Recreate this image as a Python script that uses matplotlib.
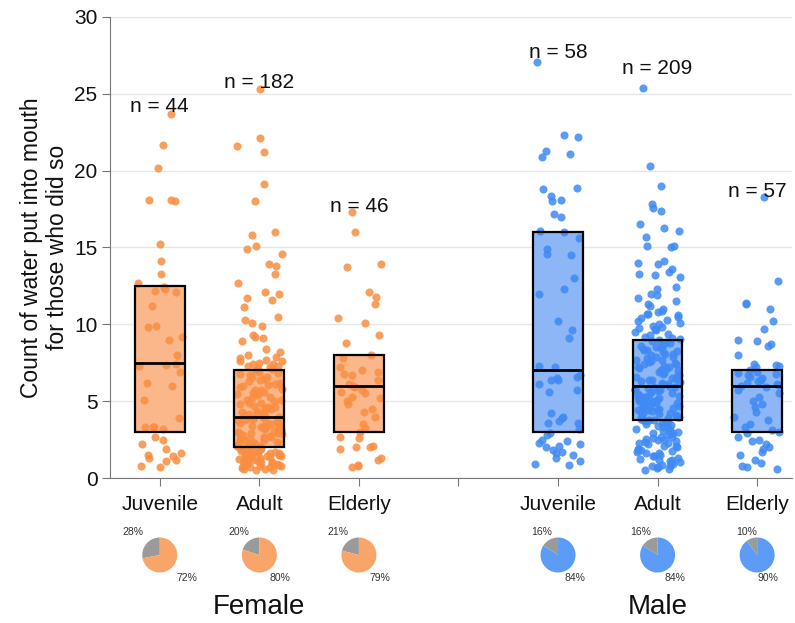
import numpy as np
import matplotlib.pyplot as plt

plt.rcParams['font.family'] = ['Liberation Sans', 'DejaVu Sans']

# categories
age_labels = ['Juvenile', 'Adult', 'Elderly']
sex_labels = ['Female', 'Male']

# counts of water put into mouth
female_juvenile = [23.7, 21.7, 20.2, 18.1, 18.0, 18.1, 15.2, 14.1, 13.3, 12.7, 12.4,
                   12.3, 12.2, 12.1, 11.2, 9.9, 9.8, 9.2, 9.0, 8.0, 7.4, 7.3, 7.35,
                   6.9, 6.2, 6.0, 5.1, 3.9, 3.3, 3.3, 3.2, 3.3, 2.7, 2.5, 2.2, 1.9,
                   1.6, 1.5, 1.3, 1.4, 1.2, 1.1, 0.8, 0.7]
female_adult = [25.3, 22.1, 21.6, 21.2, 19.1, 18.0, 16.0, 15.8, 15.1, 14.9, 14.6,
                13.9, 13.8, 13.3, 12.7, 12.1, 12.0, 11.7, 11.6, 11.1, 10.5, 10.3,
                10.1, 9.9, 9.3, 9.2, 9.1, 8.9, 8.4, 8.2, 8.0, 7.3, 7.1,
                7.9, 7.7, 7.6, 7.5, 7.4, 7.2, 7.8, 7.0, 7.6, 7.3, 7.1, 7.4,
                6.9, 6.8, 6.85, 6.7, 6.6, 6.5, 6.45, 6.4, 6.3, 6.2, 6.1, 6.0, 6.05,
                5.9, 5.8, 5.75, 5.7, 5.6, 5.5, 5.4, 5.45, 5.3, 5.2, 5.1, 5.0, 5.05,
                4.9, 4.8, 4.85, 4.7, 4.6, 4.5, 4.55, 4.4, 4.3, 4.35, 4.2, 4.1, 4.15,
                4.0, 4.05, 6.6, 6.1, 5.5, 4.6, 4.2,
                3.9, 3.95, 3.8, 3.85, 3.7, 3.75, 3.6, 3.65, 3.5, 3.55, 3.4, 3.45,
                3.3, 3.35, 3.2, 3.25, 3.1, 3.15, 3.0, 3.05, 2.9, 2.95, 2.8, 2.85,
                2.7, 2.75, 2.6, 2.65, 2.5, 2.55, 2.4, 2.45, 2.3, 2.35, 2.2, 2.25,
                2.1, 2.15, 2.0, 2.05, 3.9, 3.4, 2.9, 2.6, 2.3, 2.0,
                1.95, 1.9, 1.85, 1.8, 1.75, 1.7, 1.65, 1.6, 1.55, 1.5, 1.45, 1.4,
                1.35, 1.3, 1.25, 1.2, 1.15, 1.1, 1.05, 1.0, 0.95, 0.9, 0.85, 0.8,
                0.75, 0.7, 0.65, 0.6, 0.55, 0.5, 1.9, 1.7, 1.5, 1.3, 1.1, 0.9,
                0.7, 1.8, 1.6, 1.4, 1.2, 1.0, 0.8, 0.6, 1.35]
female_elderly = [17.3, 16.0, 13.7, 13.9, 12.1, 11.8, 11.3, 10.4, 10.1, 9.3, 8.8,
                  8.0, 7.8, 6.9, 6.8, 6.7, 7.0, 6.0, 5.9, 5.7, 5.6, 5.5, 5.2, 5.0,
                  4.8, 4.5, 4.0, 3.25, 2.7, 2.6, 2.1, 2.0, 1.9, 2.0, 1.3, 1.2, 0.85,
                  0.7, 0.8, 7.2, 6.4, 6.1, 5.3, 4.3, 3.5, 3.0]
male_juvenile = [27.1, 22.3, 22.2, 21.3, 21.1, 20.9, 18.9, 18.8, 18.35, 18.1, 18.0,
                 17.2, 17.0, 16.1, 16.0, 15.6, 14.9, 14.6, 14.5, 13.0, 12.3, 12.0,
                 10.2, 9.6, 9.1, 7.3, 7.2, 6.7, 6.6, 6.5, 6.4, 6.4, 6.1, 5.7, 5.6,
                 4.2, 4.0, 3.9, 3.7, 3.6, 3.6, 3.2, 2.5, 2.4, 2.3, 2.2, 2.1, 1.8,
                 1.7, 1.6, 1.3, 0.9, 0.85, 2.9, 2.0, 1.5, 1.1, 2.8]
male_adult = [25.4, 20.3, 19.0, 17.8, 17.6, 17.4, 16.5, 16.3, 16.1, 15.7, 15.1,
              15.0, 15.1, 14.1, 14.0, 13.9, 13.6, 13.4, 13.3, 13.2, 13.1, 12.4,
              12.3, 12.0, 11.9, 11.7, 11.5, 11.3, 11.2, 11.0, 10.9, 10.8, 10.7,
              10.6, 10.5, 10.4, 10.3, 10.2, 10.1, 10.0, 9.9, 9.8, 9.7, 9.6, 9.5,
              9.4, 9.3, 9.2, 9.1, 9.05, 10.65, 9.75,
              8.95, 8.9, 8.85, 8.8, 8.7, 8.65, 8.6, 8.5, 8.45, 8.4, 8.3, 8.25,
              8.2, 8.1, 8.05, 8.0, 7.9, 7.85, 7.8, 7.7, 7.65, 7.6, 7.5, 7.45,
              7.4, 7.3, 7.25, 7.2, 7.1, 7.05, 7.0, 6.9, 6.85, 6.8, 6.7, 6.65,
              6.6, 6.5, 6.45, 6.4, 6.3, 6.25, 6.2, 6.1, 6.05, 6.0, 8.55, 7.55,
              8.35, 7.15, 6.35,
              5.95, 5.9, 5.85, 5.8, 5.75, 5.7, 5.65, 5.6, 5.5, 5.45, 5.4, 5.35,
              5.3, 5.25, 5.2, 5.1, 5.05, 5.0, 4.95, 4.9, 4.85, 4.8, 4.75, 4.7,
              4.65, 4.6, 4.5, 4.45, 4.4, 4.35, 4.3, 4.25, 4.2, 4.15, 4.1, 4.05,
              4.0, 3.95, 3.9, 3.85, 3.8, 3.75, 5.55, 5.15, 4.55, 4.0, 3.8, 5.0,
              5.25, 4.45,
              3.7, 3.65, 3.6, 3.5, 3.45, 3.4, 3.3, 3.25, 3.2, 3.1, 3.05, 3.0,
              2.9, 2.85, 2.8, 2.7, 2.65, 2.6, 2.5, 2.45, 2.4, 2.3, 2.25, 2.2,
              2.1, 2.05, 2.0, 1.9, 1.85, 1.8, 1.7, 1.65, 1.6, 1.5, 1.45, 1.4,
              1.3, 1.25, 1.2, 1.1, 1.05, 1.0, 0.9, 0.85, 0.8, 0.7, 0.65, 0.6,
              0.55, 3.55, 2.95, 2.35, 1.75, 1.15, 0.75, 2.55]
male_elderly = [18.3, 12.8, 11.4, 11.3, 11.0, 10.2, 9.7, 9.0, 8.9, 8.7, 8.6, 8.0,
                7.4, 7.3, 7.35, 7.2, 7.0, 6.9, 6.85, 6.8, 6.7, 6.6, 6.5, 6.4, 6.3,
                6.2, 6.1, 6.05, 6.0, 5.9, 5.7, 5.5, 5.3, 5.0, 4.8, 4.6, 4.3, 4.0,
                3.8, 3.5, 3.3, 3.1, 3.0, 2.9, 2.7, 2.5, 2.4, 2.2, 2.0, 1.9, 1.7,
                1.5, 1.2, 1.0, 0.8, 0.7, 0.6]

groups = [female_juvenile, female_adult, female_elderly,
          male_juvenile, male_adult, male_elderly]

# box statistics as drawn in the picture
box_q1 = [3, 2, 3, 3, 3.75, 3]
box_median = [7.5, 4, 6, 7, 6, 6]
box_q3 = [12.5, 7, 8, 16, 9, 7]

# share of animals that did not / did put water into mouth
pct_no = [28, 20, 21, 16, 16, 10]
pct_yes = [72, 80, 79, 84, 84, 90]

x_pos = [0, 1, 2, 4, 5, 6]
n_label_y = [23.8, 25.4, 17.3, 27.3, 26.3, 18.3]

dot_colors = ['#F98E42'] * 3 + ['#3F8AF4'] * 3
box_colors = ['#FBB68A'] * 3 + ['#8DB6F6'] * 3
pie_colors = ['#F9A468'] * 3 + ['#5C9CF6'] * 3
gray = '#9A9A9A'

W, H = 795, 623
fig = plt.figure(figsize=(W / 100, H / 100), dpi=100)
ax = fig.add_axes([110 / W, 1 - 478 / H, 682 / W, 461 / H])

for i, (x, vals) in enumerate(zip(x_pos, groups)):
    ax.bar(x, box_q3[i] - box_q1[i], bottom=box_q1[i], width=0.5,
           color=box_colors[i], edgecolor='none', zorder=2)
    # deterministic horizontal spread of the dots (hash of the index)
    k = np.arange(len(vals)) + 7 * i + 1
    h = np.sin(k * 12.9898 + 78.233) * 43758.5453
    jitter = (h - np.floor(h) - 0.5) * 0.46
    ax.scatter(x + jitter, vals, s=34, color=dot_colors[i], alpha=0.85,
               linewidths=0, zorder=3)
    ax.bar(x, box_q3[i] - box_q1[i], bottom=box_q1[i], width=0.5,
           color='none', edgecolor='black', linewidth=1.6, zorder=4)
    ax.hlines(box_median[i], x - 0.25, x + 0.25, color='black', linewidth=2, zorder=4)
    ax.text(x, n_label_y[i], f'n = {len(vals)}', ha='center', va='baseline',
            fontsize=15, color='#111111', zorder=5)

ax.set_xlim(-0.5, 6.35)
ax.set_ylim(0, 30)
ax.set_yticks(range(0, 31, 5))
ax.set_xticks(range(7))
ax.set_xticklabels(age_labels + [''] + age_labels)
ax.grid(axis='y', color='#E6E6E6', linewidth=1, zorder=0)
ax.set_axisbelow(True)
for s in ['top', 'right']:
    ax.spines[s].set_visible(False)
for s in ['left', 'bottom']:
    ax.spines[s].set_color('#777777')
ax.tick_params(axis='both', colors='#777777', labelcolor='#111111',
               labelsize=15, length=6)
ax.tick_params(axis='x', pad=6)
ax.tick_params(axis='y', pad=3)
ax.set_ylabel('Count of water put into mouth\nfor those who did so',
              fontsize=16.5, color='#111111', labelpad=4, linespacing=1.15)

# overlay in pixel coordinates for the pies and group labels
ov = fig.add_axes([0, 0, 1, 1])
ov.patch.set_visible(False)
r = 17.5
pie_y = H - 555
for i, x in enumerate(x_pos):
    cx = ax.transData.transform((x, 0))[0]
    ov.pie([pct_no[i], pct_yes[i]], colors=[gray, pie_colors[i]], startangle=90,
           counterclock=True, center=(cx, pie_y), radius=r, frame=True,
           wedgeprops=dict(linewidth=0))
    th_no = np.deg2rad(90 + pct_no[i] * 1.8)
    th_yes = np.deg2rad(90 + pct_no[i] * 3.6 + pct_yes[i] * 1.8)
    for th, p in [(th_no, pct_no[i]), (th_yes, pct_yes[i])]:
        ov.text(cx + 2.0 * r * np.cos(th), pie_y + 1.3 * r * np.sign(np.sin(th)),
                f'{p}%', ha='center', va='center', fontsize=7.5, color='#333333')

for j, name in enumerate(sex_labels):
    cx = ax.transData.transform((x_pos[3 * j + 1], 0))[0]
    ov.text(cx, H - 607, name, ha='center', va='center', fontsize=20, color='#111111')

ov.set_aspect('auto')
ov.set_xlim(0, W)
ov.set_ylim(0, H)
ov.axis('off')

fig.savefig('out.png', dpi=100)
